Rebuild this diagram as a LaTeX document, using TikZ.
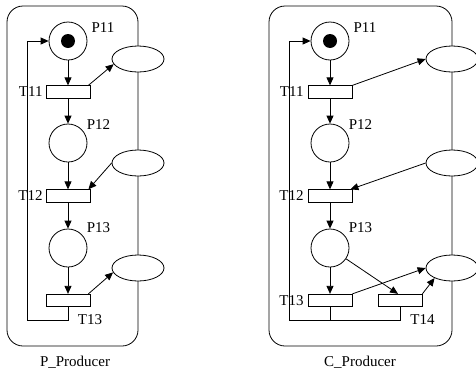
\documentclass[tikz,border=0pt]{standalone}
\usepackage{fontspec}
\setmainfont{Liberation Serif}
\usetikzlibrary{arrows.meta,shapes.geometric}
\begin{document}
\begin{tikzpicture}[x=1pt,y=-1pt,line width=0.8pt,
  place/.style={circle,draw,minimum size=38pt,inner sep=0pt},
  trans/.style={rectangle,draw,fill=white,minimum width=44pt,minimum height=12.5pt,inner sep=0pt},
  res/.style={ellipse,draw,fill=white,minimum width=52pt,minimum height=26pt,inner sep=0pt},
  token/.style={circle,fill=black,minimum size=14pt,inner sep=0pt},
  lbl/.style={font=\fontsize{15}{17}\selectfont,inner sep=0pt},
  arr/.style={-{Triangle[length=8pt,width=7pt]}},
  frame/.style={draw,rounded corners=16pt}]
\useasboundingbox (0,0) rectangle (476,370);

% ---------- left: P_Producer ----------
\draw[frame] (7,6) rectangle (138,346);
\node[res] (lR1) at (138,59) {};
\node[res] (lR2) at (138,163) {};
\node[res] (lR3) at (138,268) {};
\node[place] (lP11) at (68,41) {};
\node[token] (lK) at (68,41) {};
\node[lbl] (lP11l) at (103,28) {P11};
\node[trans] (lT11) at (68,92) {};
\node[lbl,anchor=east] (lT11l) at (43,92) {T11};
\node[place] (lP12) at (68,143) {};
\node[lbl] (lP12l) at (98.5,125) {P12};
\node[trans] (lT12) at (68,196) {};
\node[lbl,anchor=east] (lT12l) at (43,196) {T12};
\node[place] (lP13) at (68,248) {};
\node[lbl] (lP13l) at (98.5,228) {P13};
\node[trans] (lT13) at (68,300.5) {};
\node[lbl] (lT13l) at (90,320) {T13};
\node[lbl] (lcap) at (75,362) {P\_Producer};
\coordinate (lc1) at (27,320);

\draw[arr] (lP11) -- (lT11);
\draw[arr] (lT11) -- (lP12);
\draw[arr] (lP12) -- (lT12);
\draw[arr] (lT12) -- (lP13);
\draw[arr] (lP13) -- (lT13);
\draw[arr] ([xshift=-2pt]lT11.north east) -- (lR1.192);
\draw[arr] (lR2.west) -- ([xshift=-2pt]lT12.north east);
\draw[arr] ([xshift=-2pt]lT13.north east) -- (lR3.190);
\draw[arr] (lT13.south) |- (lc1) |- (lP11.west);

% ---------- right: C_Producer ----------
\draw[frame] (269,6) rectangle (452,346);
\node[res] (rR1) at (452,59) {};
\node[res] (rR2) at (452,163) {};
\node[res] (rR3) at (452,268) {};
\node[place] (rP11) at (330,41) {};
\node[token] (rK) at (330,41) {};
\node[lbl] (rP11l) at (365,28) {P11};
\node[trans] (rT11) at (330,92) {};
\node[lbl,anchor=east] (rT11l) at (304,92) {T11};
\node[place] (rP12) at (330,143) {};
\node[lbl] (rP12l) at (360.5,125) {P12};
\node[trans] (rT12) at (330,196) {};
\node[lbl,anchor=east] (rT12l) at (304,196) {T12};
\node[place] (rP13) at (330,248) {};
\node[lbl] (rP13l) at (360.5,228) {P13};
\node[trans] (rT13) at (330,300.5) {};
\node[lbl,anchor=east] (rT13l) at (304,300.5) {T13};
\node[trans] (rT14) at (400,300.5) {};
\node[lbl] (rT14l) at (422.5,320) {T14};
\node[lbl] (rcap) at (360,362) {C\_Producer};
\coordinate (rc1) at (289,320);

\draw[arr] (rP11) -- (rT11);
\draw[arr] (rT11) -- (rP12);
\draw[arr] (rP12) -- (rT12);
\draw[arr] (rT12) -- (rP13);
\draw[arr] (rP13) -- (rT13);
\draw[arr] (rP13) -- ([xshift=-2pt]rT14.north);
\draw[arr] (rT11.north east) -- (rR1.west);
\draw[arr] (rR2.west) -- ([xshift=-2pt]rT12.north east);
\draw[arr] (rT13.north east) -- (rR3.west);
\draw[arr] (rT14.north east) -- (rR3.210);
\draw (rT13.south) -- (rT13.south |- rc1);
\draw[arr] (rT14.south) |- (rc1) |- (rP11.west);
\end{tikzpicture}
\end{document}
